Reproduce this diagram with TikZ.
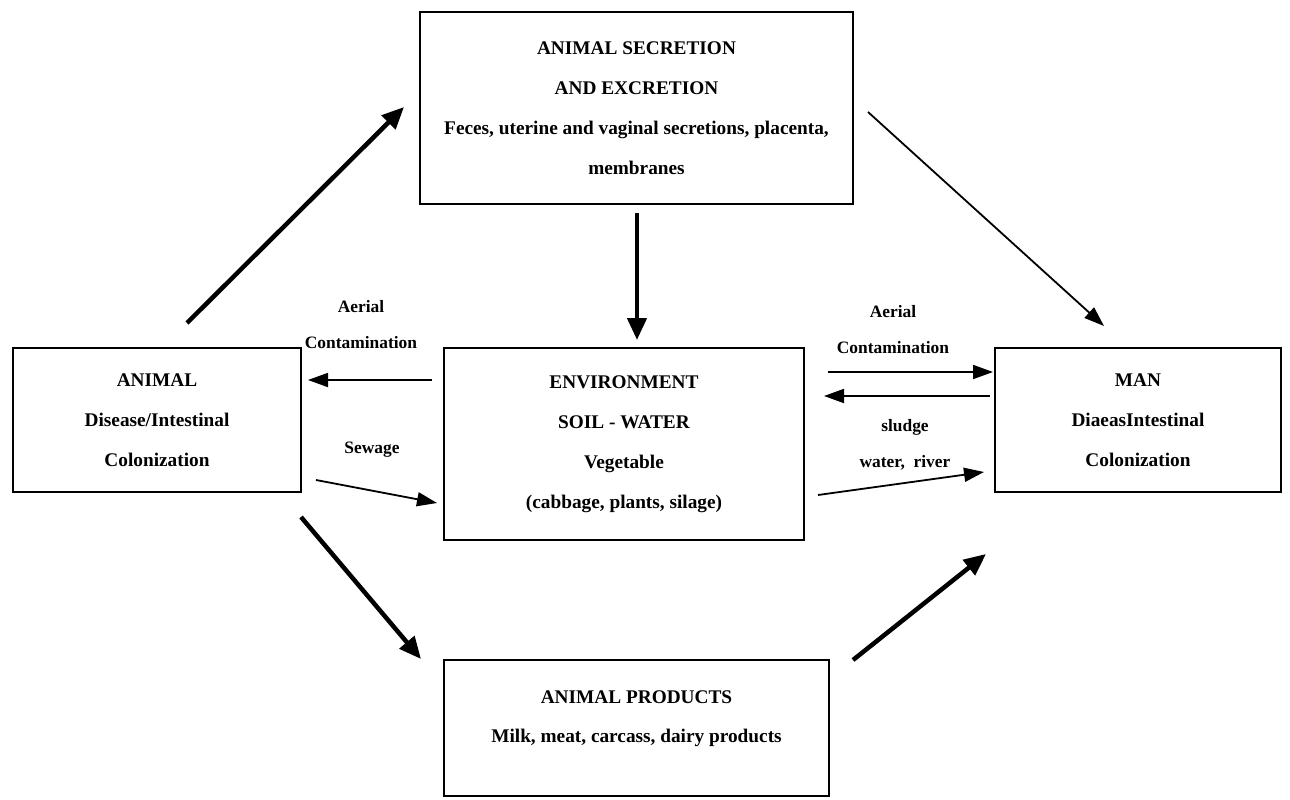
\documentclass[tikz,border=0pt]{standalone}
\usepackage{fontspec}
\setmainfont{Liberation Serif}
\usetikzlibrary{arrows.meta}
\begin{document}
\begin{tikzpicture}[x=1pt,y=-1pt,
  boxnode/.style={draw=black,line width=2pt,rectangle,inner sep=0pt,align=center,
    font=\bfseries\fontsize{19.3}{40}\selectfont},
  boxtext/.style={inner sep=0pt,align=center,font=\bfseries\fontsize{19.3}{39}\selectfont},
  lbl/.style={inner sep=0pt,align=center,font=\bfseries\fontsize{17.4}{36}\selectfont},
  thinarrow/.style={line width=1.8pt,-{Triangle[length=20pt,width=14pt]}},
  thickarrow/.style={line width=4.5pt,-{Triangle[length=22pt,width=19pt]}}]
\useasboundingbox (0,0) rectangle (1290,800);
\fill[white] (0,0) rectangle (1290,800);

% boxes
\node[boxnode,minimum width=433pt,minimum height=192pt] (top) at (636.5,108)
  {ANIMAL SECRETION\\AND EXCRETION\\Feces, uterine and vaginal secretions, placenta,\\membranes};
\node[boxnode,minimum width=288pt,minimum height=144pt] (animal) at (157,420)
  {ANIMAL\\Disease/Intestinal\\Colonization};
\node[boxnode,minimum width=360pt,minimum height=192pt] (env) at (624,444)
  {ENVIRONMENT\\SOIL - WATER\\Vegetable\\(cabbage, plants, silage)};
\node[boxnode,minimum width=286pt,minimum height=144pt] (man) at (1138,420)
  {MAN\\DiaeasIntestinal\\Colonization};
\node[boxnode,minimum width=385pt,minimum height=136pt] (prod) at (636.5,728) {};
\node[boxtext] (prodtext) at (636.5,719)
  {ANIMAL PRODUCTS\\Milk, meat, carcass, dairy products};

% labels
\node[lbl] (aerialL) at (361,325) {Aerial\\Contamination};
\node[lbl] (sewage) at (372,450) {Sewage};
\node[lbl] (aerialR) at (893,330) {Aerial\\Contamination};
\node[lbl] (sludge) at (905,445) {sludge\\water,~ river};

% arrow end points
\coordinate (a1s) at (187,323);  \coordinate (a1e) at (404,107);
\coordinate (a2s) at (637,213);  \coordinate (a2e) at (637,340);
\coordinate (a3s) at (868,112);  \coordinate (a3e) at (1104,326);
\coordinate (a4s) at (432,380);  \coordinate (a4e) at (308,380);
\coordinate (a5s) at (316,480);  \coordinate (a5e) at (437,503);
\coordinate (a6s) at (301,517);  \coordinate (a6e) at (421,659);
\coordinate (a7s) at (853,660);  \coordinate (a7e) at (986,554);
\coordinate (a8s) at (828,372);  \coordinate (a8e) at (993,372);
\coordinate (a9s) at (990,396);  \coordinate (a9e) at (824,396);
\coordinate (a10s) at (818,495); \coordinate (a10e) at (984,472);

% connectors
\draw[thickarrow] (a1s) -- (a1e);
\draw[thickarrow] (a2s) -- (a2e);
\draw[thinarrow] (a3s) -- (a3e);
\draw[thinarrow] (a4s) -- (a4e);
\draw[thinarrow] (a5s) -- (a5e);
\draw[thickarrow] (a6s) -- (a6e);
\draw[thickarrow] (a7s) -- (a7e);
\draw[thinarrow] (a8s) -- (a8e);
\draw[thinarrow] (a9s) -- (a9e);
\draw[thinarrow] (a10s) -- (a10e);
\end{tikzpicture}
\end{document}
